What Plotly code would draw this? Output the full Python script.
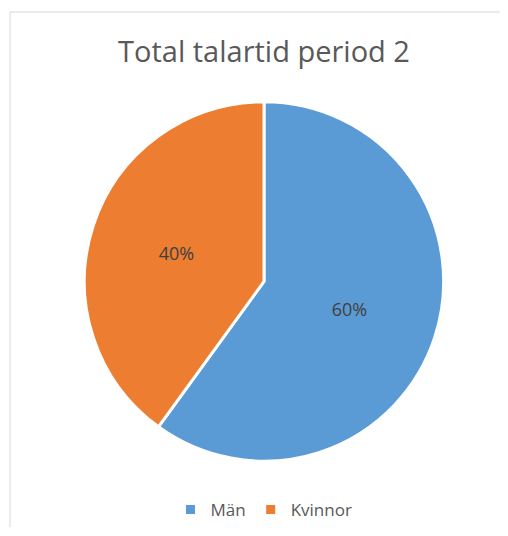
import plotly.graph_objects as go

labels = ["Män", "Kvinnor"]
values = [60, 40]
colors = ["#5B9BD5", "#ED7D31"]
title = "Total talartid period 2"

# The page body has an 8px margin, so the figure is sized to fit the window
OFF = 8
W, H = 508 - 2 * OFF, 536 - 2 * OFF
cx, cy, r = 264 - OFF, 282 - OFF, 180

fig = go.Figure(go.Pie(
    labels=labels,
    values=values,
    sort=False,
    direction="clockwise",
    rotation=0,
    marker=dict(colors=colors, line=dict(color="white", width=3)),
    texttemplate="%{percent:.0%}",
    textposition="inside",
    insidetextorientation="horizontal",
    textfont=dict(family="Open Sans", size=18, color="#404040"),
    domain=dict(x=[(cx - r) / W, (cx + r) / W], y=[(H - cy - r) / H, (H - cy + r) / H]),
    hoverinfo="label+percent",
))

fig.update_layout(
    width=W, height=H,
    margin=dict(l=0, r=0, t=0, b=0),
    paper_bgcolor="white",
    title=dict(text=title, x=cx / W, xanchor="center", y=1 - (52 - OFF) / H, yanchor="middle",
               font=dict(family="Open Sans", size=29, color="#595959")),
    showlegend=True,
    legend=dict(orientation="h", x=(264 - OFF) / W, xanchor="center", y=(H - (511 - OFF)) / H,
                yanchor="middle",
                font=dict(family="Open Sans", size=17, color="#595959"),
                itemwidth=30, traceorder="normal"),
    shapes=[
        dict(type="line", xref="paper", yref="paper", x0=(10 - OFF) / W, x1=1,
             y0=1 - (12 - OFF) / H, y1=1 - (12 - OFF) / H,
             line=dict(color="#D9D9D9", width=1)),
        dict(type="line", xref="paper", yref="paper", x0=(10 - OFF) / W, x1=(10 - OFF) / W,
             y0=0, y1=1 - (12 - OFF) / H,
             line=dict(color="#D9D9D9", width=1)),
    ],
)

fig.write_html("out.html")
